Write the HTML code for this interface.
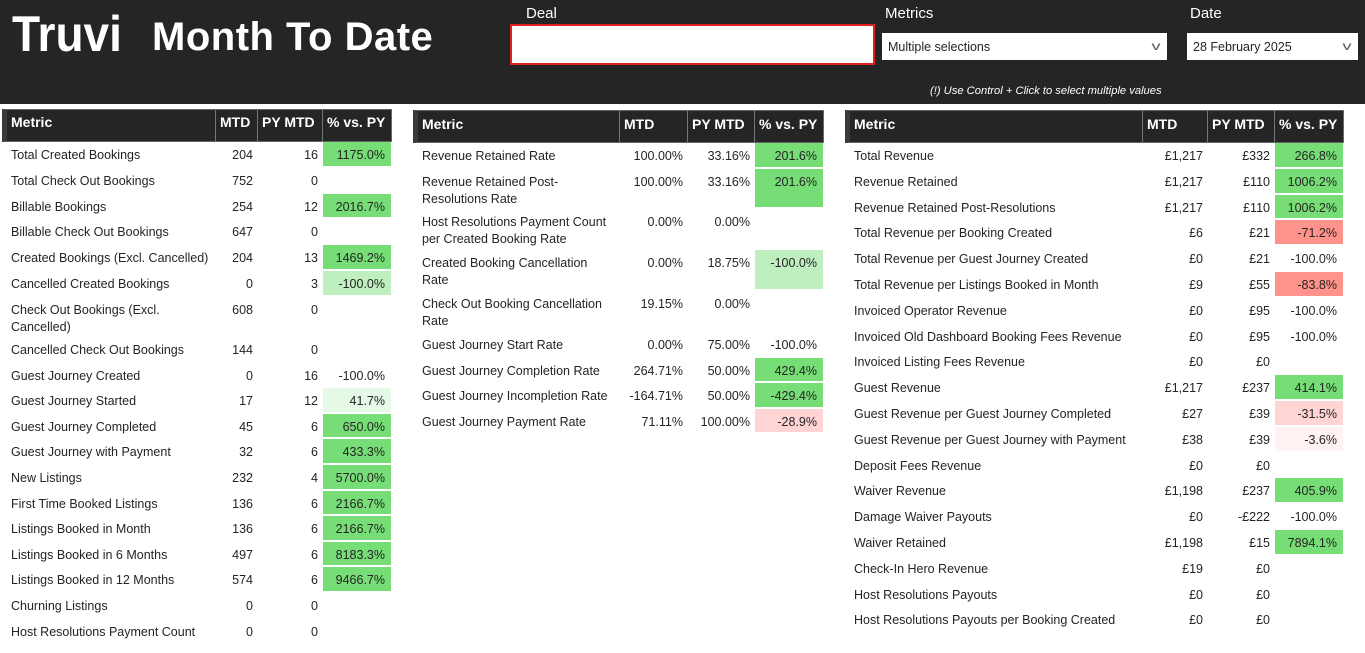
<!DOCTYPE html>
<html><head><meta charset="utf-8"><style>
*{margin:0;padding:0;box-sizing:border-box}
body{width:1365px;height:653px;background:#fff;font-family:"Liberation Sans",sans-serif;position:relative;overflow:hidden;color:#252423}
.top{position:absolute;left:0;top:0;width:1365px;height:104px;background:#252525}
.logo{position:absolute;left:12px;top:5px;color:#fff;font-weight:bold;font-size:50px;letter-spacing:0px;transform:scaleX(0.92);transform-origin:left}
.title{position:absolute;left:152px;top:15px;color:#fff;font-weight:bold;font-size:40px;letter-spacing:0.5px}
.lbl{position:absolute;color:#fff;font-size:15px}
.dd{position:absolute;background:#fff;font-size:12.5px;color:#252423;padding-left:6px;line-height:29px}
.dd span{position:absolute;right:8px;top:-1px;font-size:12px;color:#555;transform:scaleX(1.5)}
.note{position:absolute;left:930px;top:85px;color:#fff;font-size:11.2px;font-style:italic}
.t{position:absolute}
.h{display:flex;height:33px;background:#252525;border:1px solid #666;border-left:5px solid #3a3a3a;color:#fff;font-weight:bold;font-size:14px}
.h div{padding:5px 4px 0 4px;border-right:1px solid #777}
.h div:last-child{border-right:none}
.h .m{padding-left:4px}
#t1 .h div{padding-top:4px}
.r{display:flex;font-size:12.5px;line-height:17px;padding-left:5px}
.r div{padding-top:5px}
.m{padding-left:4px;white-space:nowrap}
.n{text-align:right;padding-right:5px;white-space:nowrap}
.p{text-align:right;padding-right:6px;border-bottom:2px solid #fff}
.g{background:#77dd77}.lg{background:#bfeebf}.vg{background:#e6f8e6}
.rd{background:#ff928a}.lr{background:#ffd4d4}.vr{background:#fff2f2}
#t1 .c1{width:209px}#t1 .c2{width:42px}#t1 .c3{width:65px}#t1 .c4{width:68px}
#t2 .c1{width:202px}#t2 .c2{width:68px}#t2 .c3{width:67px}#t2 .c4{width:68px}
#t3 .c1{width:293px}#t3 .c2{width:65px}#t3 .c3{width:67px}#t3 .c4{width:68px}
</style></head><body>
<div class="top"></div>
<div class="logo">Truvi</div>
<div class="title">Month To Date</div>
<div class="lbl" style="left:526px;top:5px">Deal</div>
<div style="position:absolute;left:510px;top:24px;width:365px;height:41px;background:#fff;border:2px solid #e02020"></div>
<div class="lbl" style="left:885px;top:5px">Metrics</div>
<div class="dd" style="left:882px;top:33px;width:285px;height:27px">Multiple selections<span>v</span></div>
<div class="lbl" style="left:1190px;top:5px">Date</div>
<div class="dd" style="left:1187px;top:33px;width:171px;height:27px">28 February 2025<span>v</span></div>
<div class="note">(!) Use Control + Click to select multiple values</div>

<div class="t" id="t1" style="left:2px;top:109px">
<div class="h"><div class="m c1">Metric</div><div class="c2">MTD</div><div class="c3">PY MTD</div><div class="c4">% vs. PY</div></div>
<div class="r" style="height:25.8px"><div class="m c1">Total Created Bookings</div><div class="n c2">204</div><div class="n c3">16</div><div class="p c4 g">1175.0%</div></div>
<div class="r" style="height:25.8px"><div class="m c1">Total Check Out Bookings</div><div class="n c2">752</div><div class="n c3">0</div><div class="p c4"></div></div>
<div class="r" style="height:25.8px"><div class="m c1">Billable Bookings</div><div class="n c2">254</div><div class="n c3">12</div><div class="p c4 g">2016.7%</div></div>
<div class="r" style="height:25.8px"><div class="m c1">Billable Check Out Bookings</div><div class="n c2">647</div><div class="n c3">0</div><div class="p c4"></div></div>
<div class="r" style="height:25.8px"><div class="m c1">Created Bookings (Excl. Cancelled)</div><div class="n c2">204</div><div class="n c3">13</div><div class="p c4 g">1469.2%</div></div>
<div class="r" style="height:25.8px"><div class="m c1">Cancelled Created Bookings</div><div class="n c2">0</div><div class="n c3">3</div><div class="p c4 lg">-100.0%</div></div>
<div class="r" style="height:40px"><div class="m c1">Check Out Bookings (Excl.<br>Cancelled)</div><div class="n c2">608</div><div class="n c3">0</div><div class="p c4"></div></div>
<div class="r" style="height:25.8px"><div class="m c1">Cancelled Check Out Bookings</div><div class="n c2">144</div><div class="n c3">0</div><div class="p c4"></div></div>
<div class="r" style="height:25.6px"><div class="m c1">Guest Journey Created</div><div class="n c2">0</div><div class="n c3">16</div><div class="p c4">-100.0%</div></div>
<div class="r" style="height:25.6px"><div class="m c1">Guest Journey Started</div><div class="n c2">17</div><div class="n c3">12</div><div class="p c4 vg">41.7%</div></div>
<div class="r" style="height:25.6px"><div class="m c1">Guest Journey Completed</div><div class="n c2">45</div><div class="n c3">6</div><div class="p c4 g">650.0%</div></div>
<div class="r" style="height:25.6px"><div class="m c1">Guest Journey with Payment</div><div class="n c2">32</div><div class="n c3">6</div><div class="p c4 g">433.3%</div></div>
<div class="r" style="height:25.6px"><div class="m c1">New Listings</div><div class="n c2">232</div><div class="n c3">4</div><div class="p c4 g">5700.0%</div></div>
<div class="r" style="height:25.6px"><div class="m c1">First Time Booked Listings</div><div class="n c2">136</div><div class="n c3">6</div><div class="p c4 g">2166.7%</div></div>
<div class="r" style="height:25.6px"><div class="m c1">Listings Booked in Month</div><div class="n c2">136</div><div class="n c3">6</div><div class="p c4 g">2166.7%</div></div>
<div class="r" style="height:25.6px"><div class="m c1">Listings Booked in 6 Months</div><div class="n c2">497</div><div class="n c3">6</div><div class="p c4 g">8183.3%</div></div>
<div class="r" style="height:25.6px"><div class="m c1">Listings Booked in 12 Months</div><div class="n c2">574</div><div class="n c3">6</div><div class="p c4 g">9466.7%</div></div>
<div class="r" style="height:25.6px"><div class="m c1">Churning Listings</div><div class="n c2">0</div><div class="n c3">0</div><div class="p c4"></div></div>
<div class="r" style="height:25.6px"><div class="m c1">Host Resolutions Payment Count</div><div class="n c2">0</div><div class="n c3">0</div><div class="p c4"></div></div>
</div>

<div class="t" id="t2" style="left:413px;top:110px">
<div class="h"><div class="m c1">Metric</div><div class="c2">MTD</div><div class="c3">PY MTD</div><div class="c4">% vs. PY</div></div>
<div class="r" style="height:26px"><div class="m c1">Revenue Retained Rate</div><div class="n c2">100.00%</div><div class="n c3">33.16%</div><div class="p c4 g">201.6%</div></div>
<div class="r" style="height:40px"><div class="m c1">Revenue Retained Post-<br>Resolutions Rate</div><div class="n c2">100.00%</div><div class="n c3">33.16%</div><div class="p c4 g">201.6%</div></div>
<div class="r" style="height:41px"><div class="m c1">Host Resolutions Payment Count<br>per Created Booking Rate</div><div class="n c2">0.00%</div><div class="n c3">0.00%</div><div class="p c4"></div></div>
<div class="r" style="height:41px"><div class="m c1">Created Booking Cancellation<br>Rate</div><div class="n c2">0.00%</div><div class="n c3">18.75%</div><div class="p c4 lg">-100.0%</div></div>
<div class="r" style="height:41px"><div class="m c1">Check Out Booking Cancellation<br>Rate</div><div class="n c2">19.15%</div><div class="n c3">0.00%</div><div class="p c4"></div></div>
<div class="r" style="height:25.5px"><div class="m c1">Guest Journey Start Rate</div><div class="n c2">0.00%</div><div class="n c3">75.00%</div><div class="p c4">-100.0%</div></div>
<div class="r" style="height:25.5px"><div class="m c1">Guest Journey Completion Rate</div><div class="n c2">264.71%</div><div class="n c3">50.00%</div><div class="p c4 g">429.4%</div></div>
<div class="r" style="height:25.5px"><div class="m c1">Guest Journey Incompletion Rate</div><div class="n c2">-164.71%</div><div class="n c3">50.00%</div><div class="p c4 g">-429.4%</div></div>
<div class="r" style="height:25.5px"><div class="m c1">Guest Journey Payment Rate</div><div class="n c2">71.11%</div><div class="n c3">100.00%</div><div class="p c4 lr">-28.9%</div></div>
</div>

<div class="t" id="t3" style="left:845px;top:110px">
<div class="h"><div class="m c1">Metric</div><div class="c2">MTD</div><div class="c3">PY MTD</div><div class="c4">% vs. PY</div></div>
<div class="r" style="height:25.8px"><div class="m c1">Total Revenue</div><div class="n c2">£1,217</div><div class="n c3">£332</div><div class="p c4 g">266.8%</div></div>
<div class="r" style="height:25.8px"><div class="m c1">Revenue Retained</div><div class="n c2">£1,217</div><div class="n c3">£110</div><div class="p c4 g">1006.2%</div></div>
<div class="r" style="height:25.8px"><div class="m c1">Revenue Retained Post-Resolutions</div><div class="n c2">£1,217</div><div class="n c3">£110</div><div class="p c4 g">1006.2%</div></div>
<div class="r" style="height:25.8px"><div class="m c1">Total Revenue per Booking Created</div><div class="n c2">£6</div><div class="n c3">£21</div><div class="p c4 rd">-71.2%</div></div>
<div class="r" style="height:25.8px"><div class="m c1">Total Revenue per Guest Journey Created</div><div class="n c2">£0</div><div class="n c3">£21</div><div class="p c4">-100.0%</div></div>
<div class="r" style="height:25.8px"><div class="m c1">Total Revenue per Listings Booked in Month</div><div class="n c2">£9</div><div class="n c3">£55</div><div class="p c4 rd">-83.8%</div></div>
<div class="r" style="height:25.8px"><div class="m c1">Invoiced Operator Revenue</div><div class="n c2">£0</div><div class="n c3">£95</div><div class="p c4">-100.0%</div></div>
<div class="r" style="height:25.8px"><div class="m c1">Invoiced Old Dashboard Booking Fees Revenue</div><div class="n c2">£0</div><div class="n c3">£95</div><div class="p c4">-100.0%</div></div>
<div class="r" style="height:25.8px"><div class="m c1">Invoiced Listing Fees Revenue</div><div class="n c2">£0</div><div class="n c3">£0</div><div class="p c4"></div></div>
<div class="r" style="height:25.8px"><div class="m c1">Guest Revenue</div><div class="n c2">£1,217</div><div class="n c3">£237</div><div class="p c4 g">414.1%</div></div>
<div class="r" style="height:25.8px"><div class="m c1">Guest Revenue per Guest Journey Completed</div><div class="n c2">£27</div><div class="n c3">£39</div><div class="p c4 lr">-31.5%</div></div>
<div class="r" style="height:25.8px"><div class="m c1">Guest Revenue per Guest Journey with Payment</div><div class="n c2">£38</div><div class="n c3">£39</div><div class="p c4 vr">-3.6%</div></div>
<div class="r" style="height:25.8px"><div class="m c1">Deposit Fees Revenue</div><div class="n c2">£0</div><div class="n c3">£0</div><div class="p c4"></div></div>
<div class="r" style="height:25.8px"><div class="m c1">Waiver Revenue</div><div class="n c2">£1,198</div><div class="n c3">£237</div><div class="p c4 g">405.9%</div></div>
<div class="r" style="height:25.8px"><div class="m c1">Damage Waiver Payouts</div><div class="n c2">£0</div><div class="n c3">-£222</div><div class="p c4">-100.0%</div></div>
<div class="r" style="height:25.8px"><div class="m c1">Waiver Retained</div><div class="n c2">£1,198</div><div class="n c3">£15</div><div class="p c4 g">7894.1%</div></div>
<div class="r" style="height:25.8px"><div class="m c1">Check-In Hero Revenue</div><div class="n c2">£19</div><div class="n c3">£0</div><div class="p c4"></div></div>
<div class="r" style="height:25.8px"><div class="m c1">Host Resolutions Payouts</div><div class="n c2">£0</div><div class="n c3">£0</div><div class="p c4"></div></div>
<div class="r" style="height:25.8px"><div class="m c1">Host Resolutions Payouts per Booking Created</div><div class="n c2">£0</div><div class="n c3">£0</div><div class="p c4"></div></div>
</div>
</body></html>
